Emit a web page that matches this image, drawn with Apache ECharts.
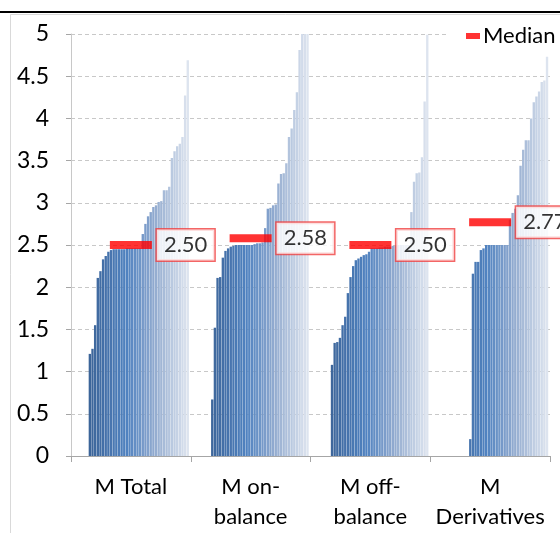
<!DOCTYPE html>
<html><head><meta charset="utf-8">
<script src="https://cdn.jsdelivr.net/npm/echarts@6/dist/echarts.min.js"></script>
<style>html,body{margin:0;padding:0;background:#fff}#c{width:560px;height:533px}</style>
</head><body><div id="c"></div>
<script>
// ---- data ----
const categories = ['M Total', 'M on-\nbalance', 'M off-\nbalance', 'M\nDerivatives'];
const mTotal = [1.21, 1.27, 1.55, 2.11, 2.19, 2.33, 2.37, 2.42,
  2.44, 2.45, 2.45, 2.45, 2.45, 2.45, 2.46, 2.46, 2.46, 2.46, 2.46, 2.46,
  2.63, 2.75, 2.84, 2.89, 2.95, 2.97, 3.01, 3.02, 3.15, 3.15, 3.19,
  3.53, 3.61, 3.67, 3.70, 3.78, 4.27, 4.69];
const mOnBalance = [0.67, 1.52, 2.11, 2.12, 2.35, 2.43, 2.46, 2.48, 2.49,
  2.50, 2.50, 2.50, 2.50, 2.50, 2.50, 2.50, 2.51, 2.52, 2.52, 2.53,
  2.70, 2.93, 2.94, 2.97, 2.98, 3.23, 3.34, 3.35, 3.47, 3.78, 3.88, 4.10, 4.31, 4.81, 5.0, 5.0, 5.0];
const mOffBalance = [1.08, 1.34, 1.35, 1.40, 1.55, 1.65, 1.93, 2.12, 2.25, 2.32, 2.34, 2.36, 2.38, 2.39, 2.42,
  2.46, 2.46, 2.46, 2.47, 2.47, 2.48, 2.48, 2.48, 2.49, 2.49, 2.50, 2.50, 2.50, 2.50, 2.50,
  2.89, 3.25, 3.35, 3.36, 3.54, 4.20, 4.99];
const mDerivatives = [0.20, 2.16, 2.30, 2.30, 2.44, 2.46, 2.50, 2.50, 2.50, 2.50, 2.50, 2.50, 2.50, 2.50, 2.50,
  2.80, 2.88, 2.93, 3.09, 3.44, 3.63, 3.74, 3.74, 4.00, 4.19, 4.26, 4.32, 4.43, 4.45, 4.73];
const medians = [2.50, 2.58, 2.50, 2.77];
const medianName = 'Median';
const yMin = 0, yMax = 5, yStep = 0.5;
const slotCount = 44;

// ---- build ----
const groups = [mTotal, mOnBalance, mOffBalance, mDerivatives];
const stops = [[0, [0x34, 0x58, 0x88]], [20, [0x50, 0x82, 0xC0]], [31, [0x95, 0xAD, 0xD0]], [43, [0xDD, 0xE4, 0xEF]]];
function slotColor(s) {
  for (let k = 0; k < stops.length - 1; k++) {
    const [a, ca] = stops[k], [b, cb] = stops[k + 1];
    if (s >= a && s <= b) {
      const t = (s - a) / (b - a);
      const c = ca.map((v, i) => Math.round(v + (cb[i] - v) * t));
      return 'rgb(' + c.join(',') + ')';
    }
  }
  return '#ddd';
}
const series = [];
for (let s = 0; s < slotCount; s++) {
  const data = groups.map(g => {
    const idx = s - (slotCount - g.length);
    return idx >= 0 ? g[idx] : null;
  });
  series.push({
    type: 'bar', data, barGap: '12%', barCategoryGap: '3%',
    itemStyle: { color: slotColor(s) }, silent: true, clip: true
  });
}
series.push({
  type: 'scatter', name: medianName, data: medians, symbol: 'rect', symbolSize: [42, 8],
  itemStyle: { color: '#FF0000' }, z: 10,
  label: {
    show: true, position: 'right', distance: 5,
    formatter: p => p.value.toFixed(2),
    fontFamily: 'Lato', fontSize: 22, color: '#000',
    backgroundColor: '#fff', borderColor: '#F04040', borderWidth: 1.5,
    padding: [5, 7, 4, 7]
  }
});

const chart = echarts.init(document.getElementById('c'), null, { renderer: 'canvas' });
chart.setOption({
  animation: false,
  backgroundColor: '#fff',
  textStyle: { fontFamily: 'Lato' },
  grid: { left: 71, right: 10, top: 34, bottom: 77, containLabel: false },
  legend: {
    data: [{ name: medianName, icon: 'rect' }],
    left: 446, top: 22, padding: [3, 6, 3, 20],
    backgroundColor: '#fff',
    itemWidth: 14, itemHeight: 6, itemGap: 5,
    textStyle: { fontFamily: 'Lato', fontSize: 22, color: '#000', padding: [0, 0, 0, -2] }
  },
  xAxis: {
    type: 'category', data: categories,
    axisLine: { lineStyle: { color: '#A6A6A6', width: 1 } },
    axisTick: { show: true, length: 6, lineStyle: { color: '#A6A6A6' } },
    axisLabel: { interval: 0, fontFamily: 'Lato', fontSize: 22, lineHeight: 30, margin: 16, color: '#000' },
    splitLine: { show: false }
  },
  yAxis: {
    type: 'value', min: yMin, max: yMax, interval: yStep,
    axisLine: { show: true, lineStyle: { color: '#C8C8C8' } },
    axisTick: { show: true, length: 5, lineStyle: { color: '#A6A6A6' } },
    axisLabel: { fontFamily: 'Lato', fontSize: 23, margin: 22, color: '#000' },
    splitLine: { show: true, lineStyle: { color: '#C8C8C8', type: [4, 3] } }
  },
  graphic: [
    { type: 'rect', shape: { x: 10.5, y: 14.5, width: 560, height: 530 }, style: { fill: null, stroke: '#D9D9D9', lineWidth: 1 }, z: -10, silent: true },
    { type: 'line', shape: { x1: 0, y1: 12, x2: 560, y2: 12 }, style: { stroke: '#000', lineWidth: 2 }, silent: true }
  ],
  series
});
</script>
</body></html>
